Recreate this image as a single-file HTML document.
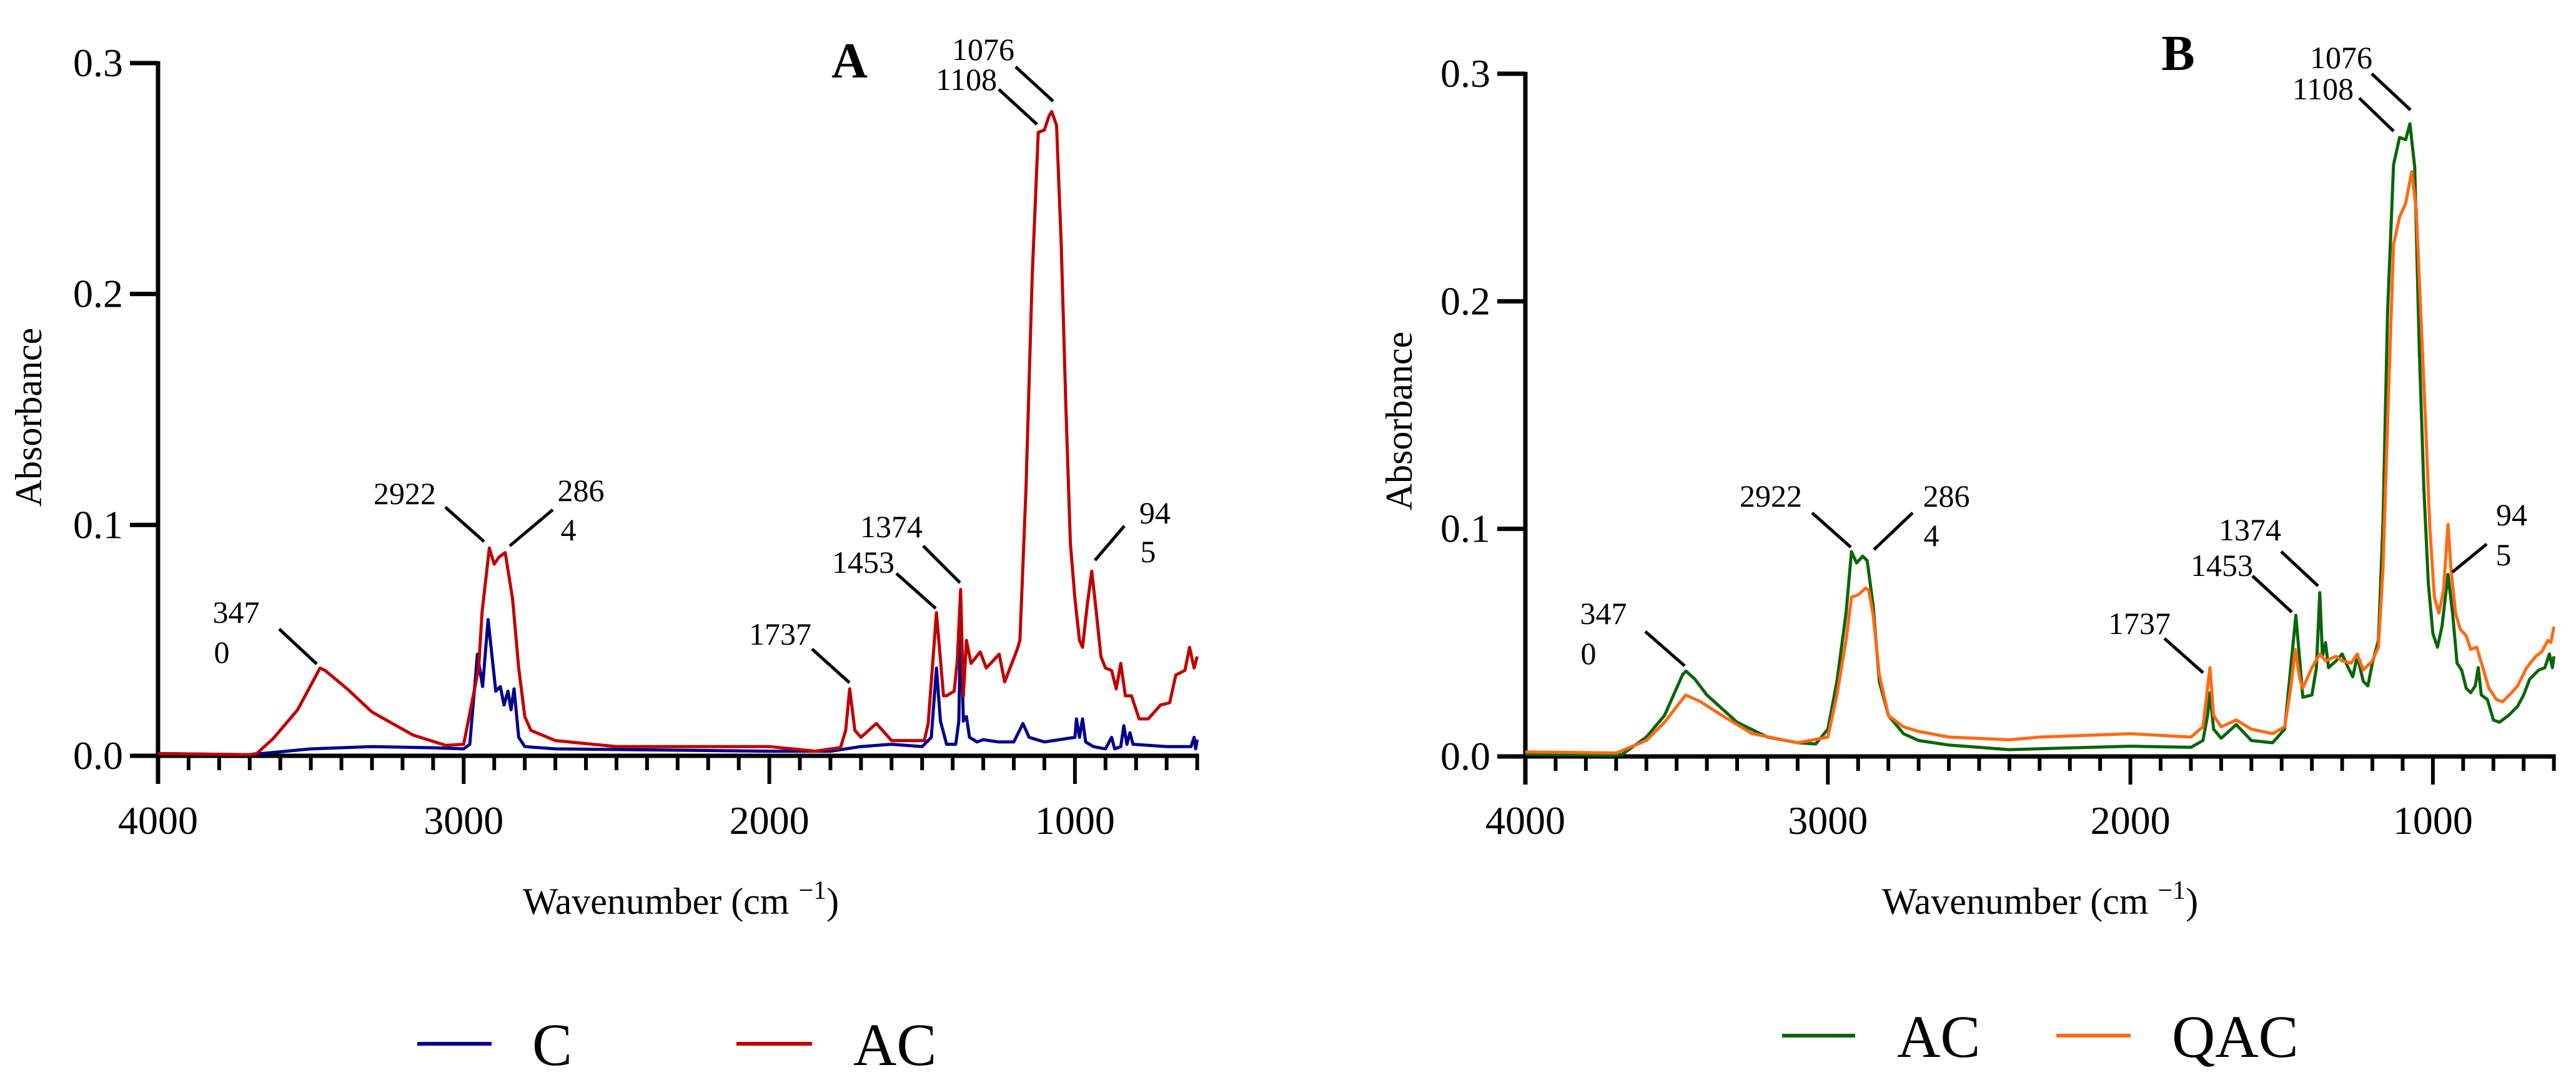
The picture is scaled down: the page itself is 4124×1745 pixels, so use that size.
<!DOCTYPE html>
<html><head><meta charset="utf-8"><style>
html,body{margin:0;padding:0;background:#fff;}
svg{display:block;font-family:"Liberation Serif",serif;}
text{font-family:"Liberation Serif",serif;}
</style></head><body>
<svg id="fig" width="4124" height="1745" viewBox="0 0 4124 1745" xmlns="http://www.w3.org/2000/svg" font-family="Liberation Serif, serif">
<g id="panelA"></g>
<g id="panelB"></g>
</svg>
<script>
const xTicksMajor = [4000, 3000, 2000, 1000];
const yTicks = [0.0, 0.1, 0.2, 0.3];
const yTickLabels = ["0.0", "0.1", "0.2", "0.3"];
const wnC = [4000,3700,3500,3300,3100,3000,2980,2955,2938,2920,2895,2880,2868,2855,2845,2835,2820,2800,2700,2000,1800,1700,1600,1500,1470,1453,1440,1420,1390,1380,1374,1365,1355,1345,1320,1300,1250,1200,1170,1150,1100,1050,1000,995,985,975,965,940,900,880,870,850,840,830,820,810,700,620,610,605,600];
const valC = [0.001,0.0005,0.003,0.004,0.0035,0.003,0.005,0.044,0.030,0.059,0.028,0.030,0.022,0.028,0.020,0.029,0.008,0.004,0.003,0.002,0.002,0.004,0.005,0.004,0.008,0.038,0.015,0.005,0.005,0.015,0.059,0.015,0.017,0.008,0.006,0.007,0.006,0.006,0.014,0.008,0.006,0.007,0.008,0.016,0.008,0.016,0.006,0.004,0.003,0.008,0.003,0.004,0.013,0.005,0.010,0.005,0.004,0.004,0.008,0.003,0.007];
const wnACa = [4000,3700,3677,3623,3543,3470,3454,3381,3300,3166,3058,3000,2991,2951,2940,2916,2900,2885,2864,2840,2820,2800,2780,2700,2500,2000,1850,1767,1750,1737,1720,1700,1650,1600,1493,1480,1453,1430,1420,1395,1385,1374,1365,1355,1340,1310,1290,1248,1230,1189,1180,1160,1140,1120,1100,1085,1076,1060,1045,1030,1015,1000,985,975,960,945,930,915,900,880,865,850,835,815,790,760,720,690,670,640,625,610,600];
const valACa = [0.001,0.0005,0.001,0.0075,0.020,0.038,0.037,0.029,0.019,0.009,0.0045,0.005,0.011,0.038,0.062,0.090,0.083,0.086,0.088,0.068,0.038,0.017,0.011,0.0066,0.004,0.004,0.002,0.0036,0.011,0.029,0.011,0.008,0.014,0.0066,0.0066,0.014,0.062,0.026,0.026,0.028,0.041,0.072,0.026,0.050,0.040,0.045,0.038,0.044,0.032,0.046,0.050,0.116,0.207,0.270,0.271,0.277,0.279,0.273,0.222,0.153,0.092,0.068,0.050,0.047,0.065,0.080,0.062,0.043,0.038,0.037,0.029,0.040,0.026,0.026,0.016,0.016,0.022,0.023,0.035,0.037,0.047,0.038,0.043];
const wnACb = [4000,3700,3679,3600,3540,3480,3469,3440,3400,3350,3300,3200,3100,3040,3000,2970,2940,2922,2905,2885,2870,2850,2830,2800,2750,2700,2600,2400,2000,1800,1760,1745,1737,1725,1700,1650,1600,1530,1490,1470,1453,1440,1430,1400,1385,1374,1365,1355,1345,1320,1300,1280,1265,1250,1230,1215,1200,1180,1165,1150,1130,1110,1090,1076,1060,1045,1030,1015,1000,985,970,950,935,920,905,890,875,860,850,840,820,800,780,750,720,700,680,650,630,615,605,600];
const valACb = [0.001,0.0005,0.001,0.0085,0.018,0.036,0.0375,0.034,0.027,0.021,0.015,0.0085,0.006,0.0055,0.012,0.033,0.063,0.090,0.085,0.088,0.086,0.066,0.033,0.018,0.010,0.007,0.005,0.003,0.0045,0.004,0.007,0.018,0.028,0.012,0.008,0.014,0.007,0.006,0.012,0.039,0.062,0.042,0.026,0.027,0.039,0.072,0.044,0.050,0.039,0.042,0.045,0.039,0.035,0.044,0.033,0.031,0.041,0.051,0.103,0.195,0.260,0.272,0.271,0.278,0.259,0.179,0.118,0.076,0.054,0.048,0.057,0.080,0.063,0.041,0.038,0.030,0.028,0.031,0.039,0.027,0.025,0.016,0.015,0.018,0.022,0.027,0.034,0.038,0.039,0.045,0.039,0.044];
const wnQAC = [4000,3700,3600,3540,3470,3420,3350,3250,3100,3000,2970,2940,2922,2900,2875,2865,2850,2830,2800,2750,2700,2600,2400,2300,2000,1800,1760,1737,1725,1700,1650,1600,1530,1490,1470,1455,1440,1430,1400,1374,1355,1320,1300,1270,1250,1230,1200,1180,1165,1150,1130,1110,1090,1070,1055,1040,1025,1010,995,980,965,950,940,925,910,890,875,855,835,815,790,770,740,720,690,660,640,620,610,600];
const valQAC = [0.002,0.0015,0.007,0.015,0.027,0.024,0.018,0.010,0.006,0.0085,0.027,0.051,0.070,0.071,0.074,0.073,0.062,0.036,0.018,0.013,0.011,0.0085,0.0073,0.0085,0.010,0.0085,0.013,0.039,0.018,0.013,0.016,0.012,0.010,0.013,0.030,0.047,0.034,0.030,0.039,0.045,0.042,0.044,0.042,0.041,0.045,0.038,0.042,0.048,0.082,0.146,0.225,0.237,0.243,0.257,0.240,0.195,0.149,0.100,0.070,0.063,0.073,0.102,0.082,0.063,0.056,0.053,0.047,0.048,0.039,0.030,0.025,0.024,0.028,0.031,0.039,0.044,0.046,0.051,0.050,0.057];

const NS = "http://www.w3.org/2000/svg";
const FONT = '"Liberation Serif", serif';
function mk(parent, tag, attrs, text){
  const e = document.createElementNS(NS, tag);
  for (const k in attrs) e.setAttribute(k, attrs[k]);
  if (tag === 'text') e.style.fontFamily = FONT;
  if (text !== undefined) e.textContent = text;
  parent.appendChild(e);
  return e;
}

function panel(g, cfg){
  const xS = wn => cfg.x0 + (4000 - wn) * cfg.pxPerWn;
  const yS = v => cfg.y0 - v * (cfg.y0 - cfg.y3) / 0.3;
  const ax = mk(g, 'line', {x1:xS(4000), y1:yS(0.3)-3, x2:xS(4000), y2:cfg.y0+45, stroke:'#000','stroke-width':7});
  
  
  const axx = mk(g, 'line', {x1:xS(4000)-45, y1:cfg.y0, x2:xS(600)+3, y2:cfg.y0, stroke:'#000','stroke-width':7});
  
  
  for (let w = 3900; w >= 600; w -= 100) {
    const major = xTicksMajor.indexOf(w) >= 0;
    const t = mk(g, 'line', {x1:xS(w), y1:cfg.y0, x2:xS(w), y2:cfg.y0 + (major?45:23), stroke:'#000','stroke-width':6});
    
    
  }
  xTicksMajor.forEach(w => {
    const t = mk(g, 'text', {x:xS(w), y:1335, 'font-size':64, 'text-anchor':'middle'}, String(w));
    
    
  });
  yTicks.forEach((v, i) => {
    const t = mk(g, 'line', {x1:xS(4000)-45, y1:yS(v), x2:xS(4000), y2:yS(v), stroke:'#000','stroke-width':7});
    
    
    const l = mk(g, 'text', {x:xS(4000)-56, y:yS(v)+21, 'font-size':64, 'text-anchor':'end'}, yTickLabels[i]);
    
    
  });
  const yt = mk(g, 'text', {x:0, y:0, 'font-size':60, 'text-anchor':'middle', transform:`translate(${cfg.ytx},${cfg.yty}) rotate(-90)`}, 'Absorbance');
  
  
  const xt = mk(g, 'text', {x:cfg.xtx, y:1463, 'font-size':60, 'text-anchor':'middle'});
  
  
  mk(xt, 'tspan', {}, 'Wavenumber (cm ');
  mk(xt, 'tspan', {dy:-24, 'font-size':42}, '\u22121');
  mk(xt, 'tspan', {dy:24}, ')');
  const pt = mk(g, 'text', {x:cfg.lx, y:cfg.ly, 'font-size':80, 'font-weight':'bold', 'text-anchor':'middle'}, cfg.letter);
  
  
  cfg.series.forEach(s => {
    let d = '';
    s.wn.forEach((w, i) => { d += (i ? 'L' : 'M') + xS(w).toFixed(1) + ',' + yS(s.val[i]).toFixed(1); });
    const p = mk(g, 'path', {d:d, fill:'none', stroke:s.color, 'stroke-width':5, 'stroke-linejoin':'round'});
    
    
  });
  cfg.ann.forEach(a => {
    const l = mk(g, 'line', {x1:a[0], y1:a[1], x2:a[2], y2:a[3], stroke:'#000', 'stroke-width':5});
    
    
  });
  cfg.annText.forEach(a => {
    const t = mk(g, 'text', {x:a[0], y:a[1], 'font-size':50, 'text-anchor':'middle'}, a[2]);
    
    
  });
  cfg.legend.forEach(lg => {
    const l = mk(g, 'line', {x1:lg[0], y1:lg[2], x2:lg[1], y2:lg[2], stroke:lg[3], 'stroke-width':6});
    
    
    const t = mk(g, 'text', {x:lg[4], y:lg[2]+34, 'font-size':96}, lg[5]);
    
    
  });
}

panel(document.getElementById('panelA'), {
  x0:253, pxPerWn:0.4893, y0:1210, y3:101, ytx:66, yty:668, xtx:1090, lx:1360, ly:124, letter:'A',
  series:[{wn:wnC, val:valC, color:'#00008B', name:'series-c'},{wn:wnACa, val:valACa, color:'#C00000', name:'series-ac'}],
  ann:[[447,1007,507,1063],[713,812,775,867],[885,816,816,874],[1300,1039,1360,1093],[1435,918,1498,974],[1478,874,1537,933],[1626,107,1686,162],[1599,143,1660,199],[1800,842,1753,897]],
  annText:[[378,997,'347'],[355,1061,'0'],[648,807,'2922'],[930,802,'286'],[910,865,'4'],[1249,1032,'1737'],[1382,917,'1453'],[1427,860,'1374'],[1574,96,'1076'],[1547,144,'1108'],[1849,838,'94'],[1838,900,'5']],
  legend:[[668,787,1671,'#00008B',852,'C'],[1179,1300,1671,'#C00000',1366,'AC']]
});
panel(document.getElementById('panelB'), {
  x0:2442, pxPerWn:0.4843, y0:1211, y3:118, ytx:2260, yty:674, xtx:3266, lx:3487, ly:112, letter:'B',
  series:[{wn:wnACb, val:valACb, color:'#0A650A', name:'series-ac'},{wn:wnQAC, val:valQAC, color:'#FF6A13', name:'series-qac'}],
  ann:[[2634,1011,2697,1066],[2901,821,2963,876],[3062,821,3000,880],[3465,1022,3527,1077],[3606,922,3669,980],[3652,883,3711,938],[3797,118,3859,176],[3777,157,3832,210],[3981,871,3926,916]],
  annText:[[2567,999,'347'],[2543,1063,'0'],[2835,811,'2922'],[3116,811,'286'],[3092,874,'4'],[3425,1015,'1737'],[3557,922,'1453'],[3602,865,'1374'],[3748,109,'1076'],[3719,159,'1108'],[4021,841,'94'],[4008,905,'5']],
  legend:[[2853,2970,1658,'#0A650A',3037,'AC'],[3292,3411,1658,'#FF6A13',3477,'QAC']]
});
</script>
</body></html>
